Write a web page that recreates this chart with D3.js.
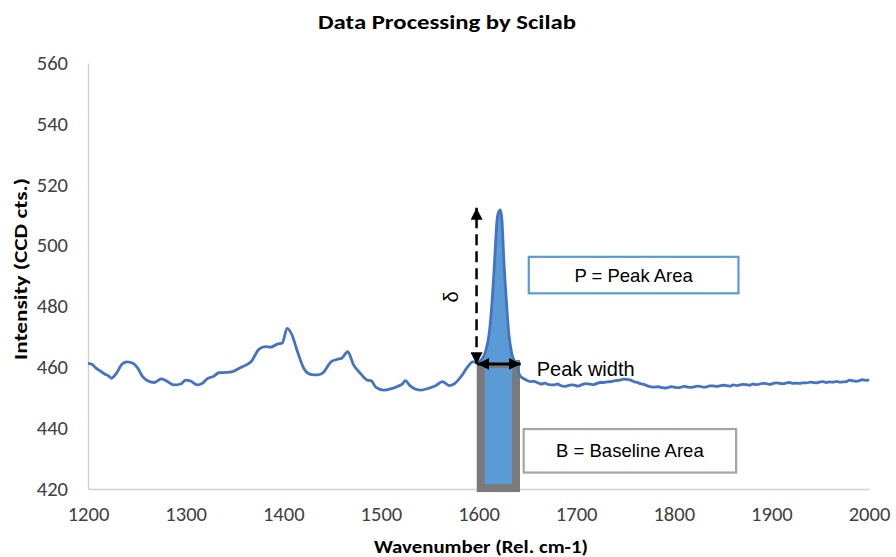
<!DOCTYPE html>
<html>
<head>
<meta charset="utf-8">
<script src="https://cdn.jsdelivr.net/npm/d3@7"></script>
<style>
  html, body { margin: 0; padding: 0; background: #ffffff; }
  svg { display: block; }
</style>
</head>
<body>
<svg id="chart" width="896" height="557"></svg>
<script>
// Raman spectrum, wavenumber (Rel. cm-1) vs intensity (CCD cts.)
const wavenumber = [
  1200, 1204, 1208, 1212, 1217, 1221, 1224, 1229, 1235, 1240, 1246, 1251, 1256, 1261, 1268,
  1275, 1280, 1288, 1295, 1300, 1305, 1312, 1317, 1322, 1329, 1334, 1341, 1348, 1355, 1362,
  1367, 1375, 1382, 1387, 1394, 1399, 1404, 1409, 1414, 1421, 1428, 1435, 1440, 1449, 1455,
  1460, 1466, 1472, 1479, 1486, 1490, 1495, 1503, 1510, 1517, 1522, 1525, 1530, 1541, 1549,
  1556, 1563, 1570, 1575, 1582, 1589, 1594, 1599, 1603, 1607, 1611, 1614, 1616.5, 1619, 1621,
  1622.5, 1624, 1626, 1628.5, 1631, 1634, 1638, 1643, 1648, 1653, 1657, 1660, 1664, 1668, 1672,
  1677, 1681, 1684, 1688, 1691, 1695, 1698, 1702, 1706, 1710, 1714, 1718, 1721, 1725, 1728,
  1732, 1736, 1740, 1745, 1749, 1752, 1756, 1759, 1763, 1766, 1770, 1773, 1777, 1780, 1784,
  1787, 1791, 1794, 1797, 1800, 1804, 1807, 1810, 1813, 1817, 1820, 1824, 1827, 1830, 1834,
  1837, 1840, 1844, 1847, 1851, 1854, 1858, 1861, 1865, 1868, 1871, 1874, 1878, 1881, 1885,
  1888, 1891, 1895, 1898, 1902, 1905, 1909, 1912, 1915, 1919, 1922, 1926, 1929, 1932, 1936,
  1940, 1943, 1946, 1950, 1953, 1956, 1960, 1963, 1967, 1970, 1973, 1977, 1980, 1984, 1987,
  1990, 1993, 1995, 1998, 2000
];
const intensity = [
  461.3, 461.0, 459.8, 458.9, 457.8, 457.2, 456.4, 458.0, 461.1, 461.8, 461.3, 459.7, 456.9, 455.6, 455.0,
  456.2, 455.6, 454.2, 454.5, 455.8, 455.5, 454.2, 454.7, 456.2, 457.1, 458.2, 458.3, 458.6, 459.7, 460.8,
  461.8, 465.9, 466.8, 466.6, 467.6, 468.0, 472.8, 470.6, 465.7, 459.7, 457.7, 457.5, 458.0, 461.8, 462.6,
  463.0, 465.1, 460.8, 458.0, 455.8, 455.6, 453.4, 452.5, 452.9, 453.7, 454.5, 455.6, 453.9, 452.5, 453.1,
  453.9, 455.3, 454.0, 454.5, 456.9, 460.2, 461.8, 461.8, 462.5, 465.0, 471.2, 482.0, 495.0, 508.4, 511.3,
  511.7, 508.4, 495.0, 482.0, 471.2, 464.6, 461.3, 457.0, 456.0, 455.3, 455.4, 455.0, 454.5, 454.8, 454.3,
  454.2, 454.5, 454.0, 453.7, 453.9, 454.2, 454.1, 453.8, 454.3, 454.6, 454.5, 454.3, 454.7, 455.0, 455.0,
  455.2, 455.3, 455.6, 455.8, 456.1, 456.0, 455.8, 455.3, 455.0, 454.6, 454.3, 453.9, 453.6, 453.5, 453.6,
  453.4, 453.2, 453.3, 453.6, 453.5, 453.3, 453.4, 453.7, 453.6, 453.4, 453.5, 453.8, 453.7, 453.5, 453.6,
  453.9, 453.9, 453.7, 453.9, 454.1, 454.0, 453.8, 454.2, 454.0, 454.2, 454.4, 454.3, 454.1, 454.5, 454.3,
  454.5, 454.7, 454.6, 454.4, 454.7, 454.9, 454.7, 454.6, 454.8, 455.0, 454.7, 454.8, 454.7, 454.9, 454.9,
  455.1, 455.0, 454.9, 455.2, 455.3, 455.0, 455.2, 455.1, 455.4, 455.1, 455.2, 455.3, 455.8, 455.5, 455.4,
  455.6, 455.9, 455.8, 455.7, 456.0
];

// Axis ticks
const xTicks = [1200, 1300, 1400, 1500, 1600, 1700, 1800, 1900, 2000];
const yTicks = [420, 440, 460, 480, 500, 520, 540, 560];

// Peak analysis (in data units)
const peakWindow = [1602.3, 1638.4];     // integration window (peak width)
const peakBaseline = 461.1;              // baseline level under the peak
const baselineFloor = 420.3;             // bottom of the baseline area
const deltaRange = [461.0, 512.4];       // peak height (δ) arrow
const deltaAt = 1598;

const W = 896, H = 557;
const margin = { top: 63, right: 27, bottom: 68, left: 88 };

const svg = d3.select("#chart");

const x = d3.scaleLinear().domain([1200, 2000]).range([margin.left, W - margin.right]);
const y = d3.scaleLinear().domain([420, 560]).range([H - margin.bottom, margin.top]);

const tickFont = "Carlito, Calibri, Lato, 'Noto Sans', sans-serif";
const annoFont = "'Liberation Sans', Arial, sans-serif";

// Axes: only the axis lines and labels, no tick marks or grid
const xAxis = svg.append("g")
  .attr("transform", `translate(0,${y(420)})`)
  .call(d3.axisBottom(x).tickValues(xTicks).tickSize(0).tickPadding(18).tickFormat(d3.format("d")));
const yAxis = svg.append("g")
  .attr("transform", `translate(${x(1200)},0)`)
  .call(d3.axisLeft(y).tickValues(yTicks).tickSize(0).tickPadding(20).tickFormat(d3.format("d")));

[xAxis, yAxis].forEach(g => {
  g.select(".domain").attr("stroke", "#d0d0d0").attr("stroke-width", 1.4);
  g.selectAll("text")
    .attr("fill", "#404040")
    .style("font-family", tickFont)
    .style("font-size", "20px")
    .attr("lengthAdjust", "spacingAndGlyphs")
    .attr("textLength", d => String(d).length * 10.4);
});
xAxis.selectAll("text").attr("dy", "0.72em");

// Baseline area (B)
svg.append("rect")
  .attr("x", x(peakWindow[0]))
  .attr("y", y(peakBaseline))
  .attr("width", x(peakWindow[1]) - x(peakWindow[0]))
  .attr("height", y(baselineFloor) - y(peakBaseline))
  .attr("fill", "#5b9bd5")
  .attr("stroke", "#7a7a7a")
  .attr("stroke-width", 8);

// Peak area (P)
const pts = wavenumber.map((w, i) => ({ w, v: intensity[i] }));
const peakPts = pts.filter(p => p.w >= peakWindow[0] && p.w <= peakWindow[1]);
svg.append("path")
  .datum(peakPts)
  .attr("fill", "#5b9bd5")
  .attr("d", d3.area()
    .x(d => x(d.w))
    .y0(y(peakBaseline))
    .y1(d => y(Math.max(d.v, peakBaseline)))
    .curve(d3.curveMonotoneX));

// Spectrum
svg.append("path")
  .datum(pts)
  .attr("fill", "none")
  .attr("stroke", "#4472c4")
  .attr("stroke-width", 2.8)
  .attr("stroke-linejoin", "round")
  .attr("d", d3.line().x(d => x(d.w)).y(d => y(d.v)).curve(d3.curveMonotoneX));

// Arrowheads
const defs = svg.append("defs");
defs.append("marker")
  .attr("id", "arrow")
  .attr("viewBox", "0 0 12 12")
  .attr("refX", 12).attr("refY", 6)
  .attr("markerUnits", "userSpaceOnUse")
  .attr("markerWidth", 12).attr("markerHeight", 12)
  .attr("orient", "auto-start-reverse")
  .append("path")
  .attr("d", "M0,0 L12,6 L0,12 Z")
  .attr("fill", "#000");

// Peak height (δ) arrow
svg.append("line")
  .attr("x1", x(deltaAt)).attr("x2", x(deltaAt))
  .attr("y1", y(deltaRange[0])).attr("y2", y(deltaRange[1]))
  .attr("stroke", "#000")
  .attr("stroke-width", 2.5)
  .attr("stroke-dasharray", "11,6")
  .attr("marker-start", "url(#arrow)")
  .attr("marker-end", "url(#arrow)");

svg.append("text")
  .attr("transform", `translate(${x(1578.5)},${y(483.1)}) rotate(-90)`)
  .attr("text-anchor", "middle")
  .style("font-family", annoFont)
  .style("font-size", "20px")
  .attr("fill", "#000")
  .text("δ");

// Peak width arrow
svg.append("line")
  .attr("x1", x(1598.8)).attr("x2", x(1643.2))
  .attr("y1", y(peakBaseline)).attr("y2", y(peakBaseline))
  .attr("stroke", "#000")
  .attr("stroke-width", 3)
  .attr("marker-start", "url(#arrow)")
  .attr("marker-end", "url(#arrow)");

svg.append("text")
  .attr("x", x(1659.7)).attr("y", y(457.3))
  .style("font-family", annoFont)
  .style("font-size", "20px")
  .attr("fill", "#000")
  .text("Peak width");

// Labelled boxes
const boxes = [
  { label: "P = Peak Area", w0: 1651.5, w1: 1866.3, v0: 496.3, v1: 484.3, stroke: "#5b9bd5" },
  { label: "B = Baseline Area", w0: 1646.3, w1: 1863.9, v0: 439.7, v1: 425.4, stroke: "#a5a5a5" }
];
boxes.forEach(b => {
  svg.append("rect")
    .attr("x", x(b.w0)).attr("y", y(b.v0))
    .attr("width", x(b.w1) - x(b.w0))
    .attr("height", y(b.v1) - y(b.v0))
    .attr("fill", "#ffffff")
    .attr("stroke", b.stroke)
    .attr("stroke-width", 2.2);
  svg.append("text")
    .attr("x", (x(b.w0) + x(b.w1)) / 2)
    .attr("y", (y(b.v0) + y(b.v1)) / 2)
    .attr("dy", "0.36em")
    .attr("text-anchor", "middle")
    .style("font-family", annoFont)
    .style("font-size", "18.5px")
    .attr("fill", "#000")
    .text(b.label);
});

// Titles
const titleFont = "Carlito, Calibri, Lato, 'Noto Sans', sans-serif";
svg.append("text")
  .attr("x", 447).attr("y", 29)
  .attr("text-anchor", "middle")
  .style("font-family", titleFont)
  .style("font-weight", "bold")
  .style("font-size", "20px")
  .attr("textLength", 258).attr("lengthAdjust", "spacingAndGlyphs")
  .attr("fill", "#000")
  .text("Data Processing by Scilab");

svg.append("text")
  .attr("x", 481).attr("y", 553)
  .attr("text-anchor", "middle")
  .style("font-family", titleFont)
  .style("font-weight", "bold")
  .style("font-size", "18px")
  .attr("textLength", 214).attr("lengthAdjust", "spacingAndGlyphs")
  .attr("fill", "#000")
  .text("Wavenumber (Rel. cm-1)");

svg.append("text")
  .attr("transform", "translate(27,269) rotate(-90)")
  .attr("text-anchor", "middle")
  .style("font-family", titleFont)
  .style("font-weight", "bold")
  .style("font-size", "18px")
  .attr("textLength", 182).attr("lengthAdjust", "spacingAndGlyphs")
  .attr("fill", "#000")
  .text("Intensity (CCD cts.)");
</script>
</body>
</html>
